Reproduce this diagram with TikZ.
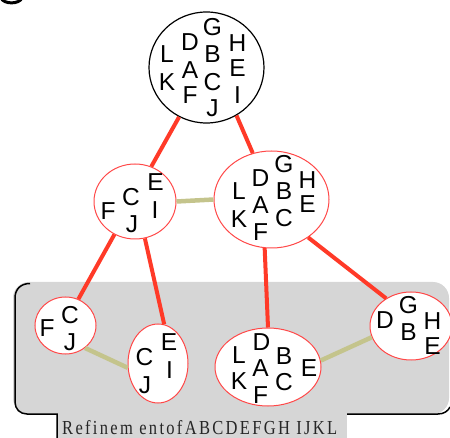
\documentclass[tikz,border=0pt]{standalone}
\usepackage{fontspec}
\setmainfont{Liberation Sans}
\newfontfamily\capfont[LetterSpace=14]{Liberation Serif}
\usetikzlibrary{shapes.geometric}
\definecolor{edgered}{RGB}{255,58,40}
\definecolor{rimred}{RGB}{255,72,72}
\definecolor{olivelink}{RGB}{196,196,140}
\definecolor{bggray}{RGB}{214,214,214}
\tikzset{
  setnode/.style={ellipse, draw=rimred, line width=1pt, fill=white, inner sep=0pt},
  topset/.style={ellipse, draw=black, line width=1.2pt, fill=white, inner sep=0pt},
  lt/.style={inner sep=0pt, font=\fontsize{24.5}{24.5}\selectfont},
  treeedge/.style={draw=edgered, line width=4pt},
  linkedge/.style={draw=olivelink, line width=4.5pt},
  frame/.style={draw=black, line width=1.5pt},
}
\begin{document}
\begin{tikzpicture}[x=1pt,y=-1pt]
\useasboundingbox (0,0) rectangle (450,438);
% partial letter at top-left corner
\draw[line width=3pt] (1,-2) .. controls (4,4.5) and (19,4.5) .. (22,-2);
% grey refinement region
\fill[bggray, rounded corners=16pt] (13,282) rectangle (449,414);
\fill[bggray] (57,405) rectangle (347,440);
\draw[frame] (30,283.5) .. controls (21,283.5) and (15,289) .. (15,298) -- (15,402)
  .. controls (15,409) and (20,414) .. (27,414) -- (57,414) -- (57,440);
\draw[frame] (347,414) -- (438,414) .. controls (444,414) and (448,411) .. (450,407);
% sets
\node[topset, minimum width=115pt, minimum height=111pt] (top) at (206.5,67.5) {};
\node[setnode, minimum width=82pt, minimum height=75pt] (ml) at (135,201.5) {};
\node[setnode, minimum width=115pt, minimum height=97pt] (mr) at (271.5,199.5) {};
\node[setnode, minimum width=61pt, minimum height=57pt] (fcj) at (65.5,325.5) {};
\node[setnode, minimum width=60pt, minimum height=79pt] (cjei) at (158,363.5) {};
\node[setnode, minimum width=106pt, minimum height=78pt] (dlab) at (268,367) {};
\node[setnode, minimum width=82pt, minimum height=68pt] (dg) at (411,326) {};
% tree edges
\draw[treeedge] (top.241) -- (ml.65);
\draw[treeedge] (top.302) -- (mr.112);
\draw[treeedge] (ml.238) -- (fcj.64);
\draw[treeedge] (ml.285) -- (cjei.81);
\draw[treeedge] (mr.262) -- (dlab.90);
\draw[treeedge] (mr.314) -- (dg.132);
% links
\draw[linkedge] (ml.0) -- (mr.180);
\draw[linkedge] (fcj.311) -- (cjei.188);
\draw[linkedge] (dlab.7) -- (dg.196);
% letters
\foreach \t/\x/\y in {L/167/54.5, K/167/82.5, D/190/42, A/190/70, F/190/95.5,
  G/212.5/27, B/212.5/54.5, C/212.5/82, J/212.5/108.5, H/237.5/43.5, E/237.5/68.5, I/237.5/95.5}
  \node[lt] (top\t) at (\x,\y) {\t};
\foreach \t/\x/\y in {F/108/211, C/131/197, J/132/224, E/155.5/182, I/155/210.5}
  \node[lt] (ml\t) at (\x,\y) {\t};
\foreach \t/\x/\y in {L/239/191.5, K/239/219.5, D/260.5/178.5, A/260.5/205.5, F/260.5/232,
  G/284/164.5, B/284/191.5, C/284/218, H/307.5/180, E/307.5/204}
  \node[lt] (mr\t) at (\x,\y) {\t};
\foreach \t/\x/\y in {F/47/328.5, C/70/315.5, J/70/342.5}
  \node[lt] (fcj\t) at (\x,\y) {\t};
\foreach \t/\x/\y in {C/144.5/357, J/145/385, E/169/342.5, I/169.5/370.5}
  \node[lt] (cjei\t) at (\x,\y) {\t};
\foreach \t/\x/\y in {D/261.5/342, L/239/355, K/239/381.5, A/260.5/368.5, F/260.5/395.5,
  B/284/356.5, C/284/382, E/309/368}
  \node[lt] (dlab\t) at (\x,\y) {\t};
\foreach \t/\x/\y in {D/385/320, G/408.5/305.5, B/408.5/332, H/432.5/321.5, E/432.5/346.5}
  \node[lt] (dg\t) at (\x,\y) {\t};
% caption
\node[anchor=base west, inner sep=0pt, text=black!85] (caption) at (62,434)
  {\resizebox{275pt}{14pt}{\fontsize{17}{17}\capfont Refinem entofABCDEFGH IJKL}};
\end{tikzpicture}
\end{document}
